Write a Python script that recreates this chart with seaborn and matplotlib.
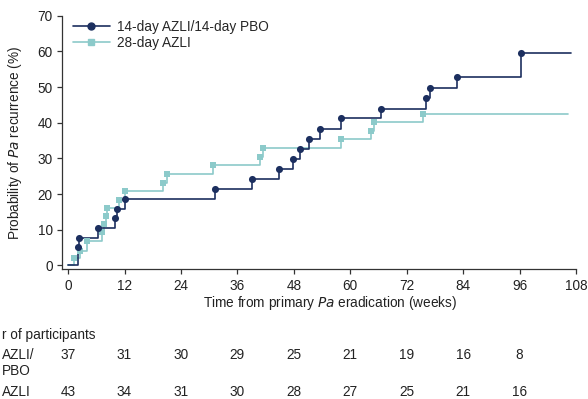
import numpy as np
import pandas as pd
import seaborn as sns
from matplotlib import pyplot as plt
from matplotlib.lines import Line2D
import matplotlib.transforms as mtransforms

# Kaplan-Meier curves (weeks, % recurrence)
t_14 = [0, 2.0, 2.4, 6.45, 10.05, 10.35, 12.15, 31.2, 39.1, 44.8, 47.8, 49.3, 51.2,
        53.6, 58.0, 66.5, 76.0, 77.0, 82.8, 96.4]
p_14 = [0, 5.1, 7.8, 10.5, 13.2, 15.9, 18.7, 21.4, 24.2, 27.0, 29.8, 32.7, 35.4,
        38.3, 41.2, 43.9, 46.9, 49.8, 52.8, 59.6]
end_14 = 106.9

t_28 = [0, 1.3, 2.55, 4.1, 7.15, 7.65, 8.05, 8.25, 10.85, 12.2, 20.1, 21.1, 30.9,
        40.7, 41.5, 58.0, 64.4, 65.1, 75.5]
p_28 = [0, 2.2, 4.1, 6.8, 9.4, 11.5, 13.8, 16.0, 18.3, 20.9, 23.1, 25.6, 28.2,
        30.4, 32.9, 35.4, 37.7, 40.1, 42.4]
end_28 = 106.2

weeks = [0, 12, 24, 36, 48, 60, 72, 84, 96, 108]
risk_14 = [37, 31, 30, 29, 25, 21, 19, 16, 8]
risk_28 = [43, 34, 31, 30, 28, 27, 25, 21, 16]

lab_14 = '14-day AZLI/14-day PBO'
lab_28 = '28-day AZLI'
c_14 = '#1c2f5f'
c_28 = '#8ccaca'
fs = 9.8

sns.set_style('ticks')
plt.rcParams['font.family'] = ['Liberation Sans', 'DejaVu Sans']
plt.rcParams['font.size'] = fs

fig = plt.figure(figsize=(5.88, 3.99), dpi=100)
ax = fig.add_axes([62/588, 1 - 269.3/399, 514/588, 253.6/399])

# step lines (extend last value to end of follow-up)
steps = pd.concat([
    pd.DataFrame({'t': t_14 + [end_14], 'p': p_14 + [p_14[-1]], 'arm': lab_14}),
    pd.DataFrame({'t': t_28 + [end_28], 'p': p_28 + [p_28[-1]], 'arm': lab_28}),
])
events = pd.concat([
    pd.DataFrame({'t': t_14[1:], 'p': p_14[1:], 'arm': lab_14}),
    pd.DataFrame({'t': t_28[1:], 'p': p_28[1:], 'arm': lab_28}),
])
pal = {lab_14: c_14, lab_28: c_28}

for arm in [lab_28, lab_14]:
    sns.lineplot(x='t', y='p', data=steps[steps.arm == arm], color=pal[arm],
                 drawstyle='steps-post', estimator=None, sort=False,
                 linewidth=1.2, ax=ax, legend=False)
sns.scatterplot(x='t', y='p', data=events[events.arm == lab_28], color=c_28,
                marker='s', s=22, linewidth=0, ax=ax, legend=False, zorder=3)
sns.scatterplot(x='t', y='p', data=events[events.arm == lab_14], color=c_14,
                marker='o', s=26, linewidth=0, ax=ax, legend=False, zorder=4)

ax.set_xlim(-1.3, 108)
ax.set_ylim(-1.1, 70)
ax.set_xticks(weeks)
ax.set_yticks(range(0, 71, 10))
sns.despine(ax=ax)
for s in ['left', 'bottom']:
    ax.spines[s].set_color('#333333')
    ax.spines[s].set_linewidth(0.9)
ax.tick_params(colors='#333333', labelcolor='#222222', length=3.8, width=0.9,
               labelsize=fs, pad=3)

ax.set_ylabel('Probability of $\\it{Pa}$ recurrence (%)', fontsize=fs, color='#222222')
ax.set_xlabel('Time from primary $\\it{Pa}$ eradication (weeks)', fontsize=fs, color='#222222')
ax.xaxis.set_label_coords(0.521, -0.097)
ax.yaxis.set_label_coords(-0.074, 0.5)

handles = [Line2D([], [], color=c_14, marker='o', markersize=5, linewidth=1.2),
           Line2D([], [], color=c_28, marker='s', markersize=5, linewidth=1.2)]
ax.legend(handles, [lab_14, lab_28], loc='upper left', bbox_to_anchor=(0.021, 0.985),
          frameon=False, handlelength=2.7, handletextpad=0.55, labelspacing=0.2,
          borderpad=0, borderaxespad=0, fontsize=fs)

# number at risk table
tr = mtransforms.blended_transform_factory(ax.transData, fig.transFigure)
fig.text(2/588, 1 - 335/399, 'r of participants', ha='left', va='center', color='#222222')
fig.text(2/588, 1 - 363/399, 'AZLI/\nPBO', ha='left', va='center', color='#222222',
         linespacing=1.2)
fig.text(2/588, 1 - 391.5/399, 'AZLI', ha='left', va='center', color='#222222')
for w, n1, n2 in zip(weeks, risk_14, risk_28):
    ax.text(w, 1 - 355/399, str(n1), transform=tr, ha='center', va='center', color='#222222')
    ax.text(w, 1 - 391.5/399, str(n2), transform=tr, ha='center', va='center', color='#222222')

fig.savefig('out.png', dpi=100)
